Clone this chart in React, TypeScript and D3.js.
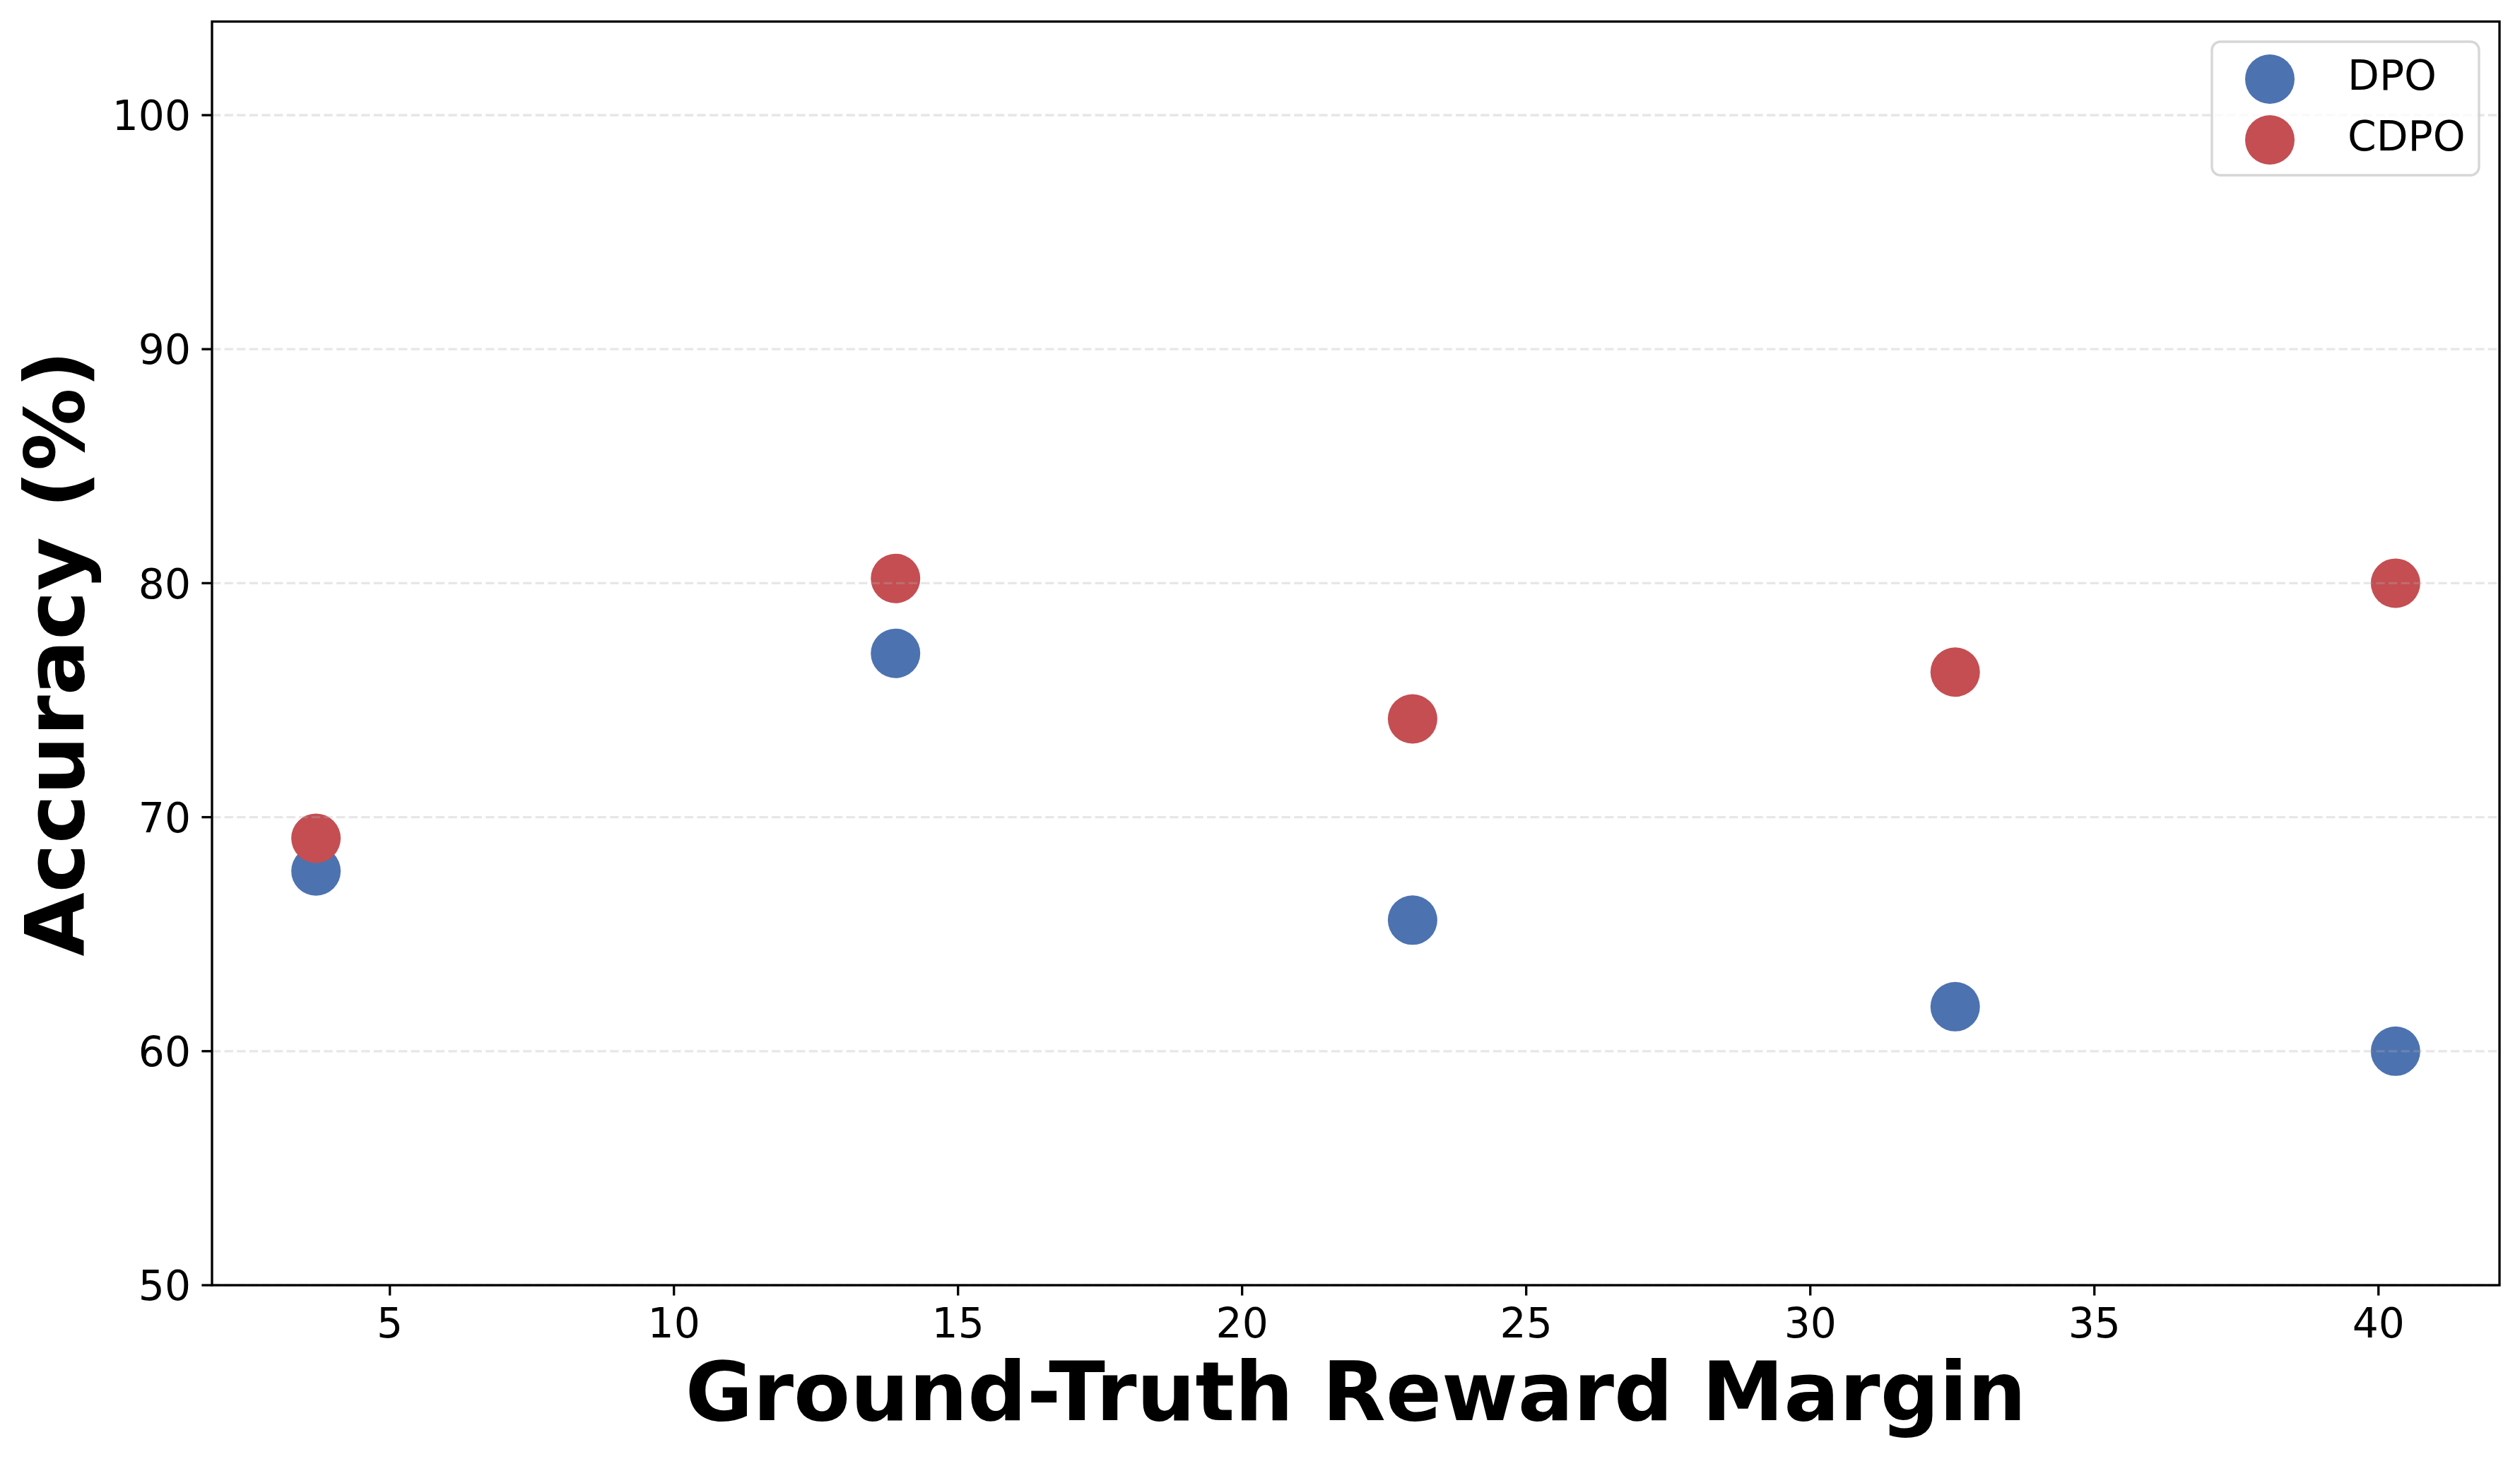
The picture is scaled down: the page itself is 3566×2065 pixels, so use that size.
import React from "react";
import * as d3 from "d3";

const margins = [3.7, 13.9, 23.0, 32.55, 40.3];
const dpoAcc = [67.7, 77.0, 65.6, 61.9, 60.0];
const cdpoAcc = [69.1, 80.2, 74.2, 76.2, 80.0];
const xTicks = [5, 10, 15, 20, 25, 30, 35, 40];
const yTicks = [50, 60, 70, 80, 90, 100];
const seriesNames = ["DPO", "CDPO"];
const seriesColors = ["#4C72B0", "#C44E52"];

const W = 3566;
const H = 2065;
const L = 300, R = 3537, T = 30.5, B = 1819;
const FONT = "'DejaVu Sans', sans-serif";

export default function App() {
  const x = d3.scaleLinear().domain([1.87, 42.13]).range([L, R]);
  const y = d3.scaleLinear().domain([50, 104]).range([B, T]);
  const series = [dpoAcc, cdpoAcc];
  const r = 35;
  const lw = 3.33;
  const labelSize = 116.7;

  return (
    <svg width={W} height={H} style={{ position: "absolute", left: 0, top: 0, background: "#fff" }} fontFamily={FONT}>
      <rect x={0} y={0} width={W} height={H} fill="#fff" />
      {/* points */}
      {series.map((vals, si) =>
        vals.map((v, i) => (
          <circle key={`${si}-${i}`} cx={x(margins[i])} cy={y(v)} r={r} fill={seriesColors[si]} />
        ))
      )}
      {/* grid (drawn above scatter like matplotlib) */}
      {yTicks.map((t) => (
        <line key={`g${t}`} x1={L} x2={R} y1={y(t)} y2={y(t)} stroke="#b0b0b0" strokeOpacity={0.3}
          strokeWidth={lw} strokeDasharray="12.3 5.3" />
      ))}
      {/* spines */}
      <rect x={L} y={T} width={R - L} height={B - T} fill="none" stroke="#000" strokeWidth={lw} />
      {/* x ticks */}
      {xTicks.map((t) => (
        <g key={`x${t}`}>
          <line x1={x(t)} x2={x(t)} y1={B} y2={B + 14.6} stroke="#000" strokeWidth={lw} />
          <text x={x(t)} y={1892.7} fontSize={58.3} textAnchor="middle" fill="#000">{t}</text>
        </g>
      ))}
      {/* y ticks */}
      {yTicks.map((t) => (
        <g key={`y${t}`}>
          <line x1={L - 14.6} x2={L} y1={y(t)} y2={y(t)} stroke="#000" strokeWidth={lw} />
          <text x={270} y={y(t) + 21.2} fontSize={58.3} textAnchor="end" fill="#000">{t}</text>
        </g>
      ))}
      {/* axis labels */}
      <text x={(L + R) / 2} y={2010} fontSize={labelSize} fontWeight="bold" textAnchor="middle" fill="#000">
        Ground-Truth Reward Margin
      </text>
      <text transform={`translate(118, ${(T + B) / 2}) rotate(-90)`} fontSize={labelSize} fontWeight="bold"
        textAnchor="middle" fill="#000">
        Accuracy (%)
      </text>
      {/* legend */}
      <rect x={3130} y={59} width={378} height={189} rx={12} ry={12} fill="#fff" fillOpacity={0.8}
        stroke="#cccccc" strokeOpacity={0.8} strokeWidth={lw} />
      {seriesNames.map((n, i) => (
        <g key={n}>
          <circle cx={3212} cy={112 + i * 86} r={r} fill={seriesColors[i]} />
          <text x={3322} y={127 + i * 86} fontSize={58.3} fill="#000">{n}</text>
        </g>
      ))}
    </svg>
  );
}
